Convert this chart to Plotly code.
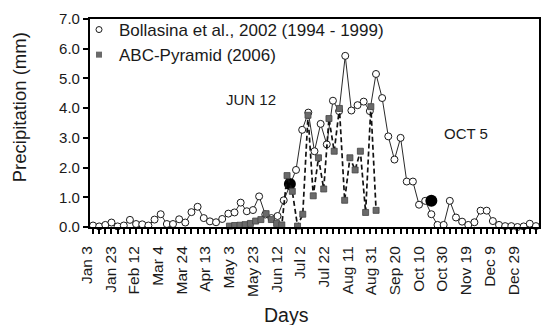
import plotly.graph_objects as go

# ---- data ----
tick_labels = ["Jan 3", "Jan 23", "Feb 12", "Mar 4", "Mar 24", "Apr 13", "May 3", "May 23",
               "Jun 12", "Jul 2", "Jul 22", "Aug 11", "Aug 31", "Sep 20", "Oct 10", "Oct 30",
               "Nov 19", "Dec 9", "Dec 29"]

# Bollasina et al., 2002 (1994-1999): 73 pentads (Jan 3 ... Dec 29)
bollasina = [0.05, 0.02, 0.07, 0.15, 0.02, 0.05, 0.24, 0.10, 0.09, 0.05,
             0.25, 0.43, 0.10, 0.10, 0.26, 0.15, 0.50, 0.68, 0.30, 0.19,
             0.16, 0.27, 0.45, 0.49, 0.82, 0.53, 0.57, 1.03, 0.42, 0.30,
             0.37, 0.90, 1.42, 1.92, 3.27, 3.85, 2.55, 3.47, 2.78, 4.25,
             3.90, 5.76, 3.92, 4.10, 4.22, 3.90, 5.15, 4.34, 3.05, 2.27,
             3.00, 1.53, 1.53, 0.75, 0.88, 0.43, 0.07, 0.07, 0.88, 0.32,
             0.18, 0.07, 0.16, 0.55, 0.55, 0.20, 0.07, 0.03, 0.03, 0.00,
             0.02, 0.11, 0.03]

# ABC-Pyramid (2006)
abc = [0.03, 0.05, 0.06, 0.08, 0.12, 0.20, 0.25, 0.45, 0.25, 0.12,
       0.07, 1.73, 1.20, 0.03, 0.43, 3.76, 1.05, 2.33, 1.28, 3.65,
       2.55, 3.99, 0.90, 2.33, 1.92, 2.55, 0.49, 4.05, 0.56]

# monsoon onset / withdrawal (pentad index, value)
onset_names = ["JUN 12", "OCT 5"]
onset_idx = [32, 55]
onset_val = [1.45, 0.88]

pent = list(range(len(bollasina)))
label_pos = list(range(len(tick_labels)))

FONT = "Liberation Sans, Arial, sans-serif"
TXT = "#1a1a1a"

fig = go.Figure()

fig.add_trace(go.Scatter(
    x=pent, y=bollasina, mode="lines+markers", xaxis="x", yaxis="y",
    line=dict(color="#2a2a2a", width=1),
    marker=dict(symbol="circle", size=7, color="white", line=dict(color="#1a1a1a", width=1)),
    showlegend=False, cliponaxis=False))

fig.add_trace(go.Scatter(
    x=list(range(len(abc))), y=abc, mode="lines+markers", xaxis="x3", yaxis="y",
    line=dict(color="#111111", width=1.7, dash="5px,3px"),
    marker=dict(symbol="square", size=6, color="#6a6a6a", line=dict(color="#444444", width=0.8)),
    showlegend=False, cliponaxis=False))

fig.add_trace(go.Scatter(
    x=onset_idx, y=onset_val, mode="markers", xaxis="x", yaxis="y",
    marker=dict(symbol="circle", size=12, color="black"),
    showlegend=False, cliponaxis=False))

# legend entries (markers only)
fig.add_trace(go.Scatter(x=[None], y=[None], mode="markers", name="Bollasina et al., 2002 (1994 - 1999)",
                         marker=dict(symbol="circle", size=6, color="white", line=dict(color="#1a1a1a", width=1))))
fig.add_trace(go.Scatter(x=[None], y=[None], mode="markers", name="ABC-Pyramid (2006)",
                         marker=dict(symbol="square", size=6, color="#6a6a6a", line=dict(color="#6a6a6a", width=0))))

# carrier for the date labels axis
fig.add_trace(go.Scatter(x=label_pos, y=[None] * len(label_pos), xaxis="x2", yaxis="y",
                         mode="markers", showlegend=False, hoverinfo="skip"))

L, R, T, B = 80, 3, 19, 98
W, H = 544, 325
plot_w = W - L - R
plot_h = H - T - B
axis_left_px = 90
data_w = W - R - axis_left_px

# label axis geometry (px of first label, px per label)
lab_first, lab_step = 87.0, 23.8
lab_r0 = (L - lab_first) / lab_step
lab_r1 = lab_r0 + plot_w / lab_step

# ABC series geometry
abc_first, abc_step = 230.1, 5.26
abc_r0 = -(abc_first - axis_left_px) / abc_step
abc_r1 = abc_r0 + data_w / abc_step

def px2paper_x(px):
    return (px - L) / plot_w

def px2paper_y(py):
    return (H - B - py) / plot_h

def note(text, px, py, size, angle=0):
    return dict(text=text, x=px2paper_x(px), y=px2paper_y(py), xref="paper", yref="paper",
                xanchor="center", yanchor="middle", showarrow=False, textangle=angle,
                font=dict(size=size, color=TXT, family=FONT))

fig.update_layout(
    width=W, height=H,
    margin=dict(l=L, r=R, t=T, b=B),
    paper_bgcolor="white", plot_bgcolor="rgba(0,0,0,0)",
    font=dict(family=FONT, color=TXT),
    xaxis=dict(domain=[(axis_left_px - L) / plot_w, 1], range=[-0.5, len(pent) - 0.5],
               anchor="y", tickmode="array", tickvals=pent, showticklabels=False,
               ticks="outside", ticklen=5, tickwidth=1.5, tickcolor="black",
               showline=True, linecolor="black", linewidth=2, mirror=True,
               showgrid=False, zeroline=False),
    xaxis3=dict(overlaying="x", range=[abc_r0, abc_r1], visible=False),
    xaxis2=dict(domain=[0, 1], anchor="y", range=[lab_r0, lab_r1],
                tickmode="array", tickvals=label_pos, ticktext=tick_labels, tickangle=-90,
                ticks="outside", ticklen=12, tickcolor="rgba(0,0,0,0)",
                tickfont=dict(size=15.5, color=TXT, family=FONT),
                showline=False, showgrid=False, zeroline=False),
    yaxis=dict(range=[0, 7], anchor="x", tickmode="array", tickvals=list(range(8)),
               tickformat=".1f", ticks="outside", ticklen=5, tickwidth=1.5, tickcolor="black",
               tickfont=dict(size=15, color=TXT, family=FONT),
               showline=True, linecolor="black", linewidth=2, mirror=True,
               showgrid=False, zeroline=False),
    legend=dict(x=px2paper_x(79), y=px2paper_y(12), xanchor="left", yanchor="top",
                bgcolor="rgba(0,0,0,0)", font=dict(size=17, color=TXT, family=FONT),
                tracegroupgap=0),
    annotations=[
        note("Days", 287, 315, 19.5),
        note("Precipitation (mm)", 19, 107, 18.5, -90),
        note(onset_names[0], 252, 100, 15),
        note(onset_names[1], 468, 133, 15),
    ],
)

fig.write_html("out.html")
